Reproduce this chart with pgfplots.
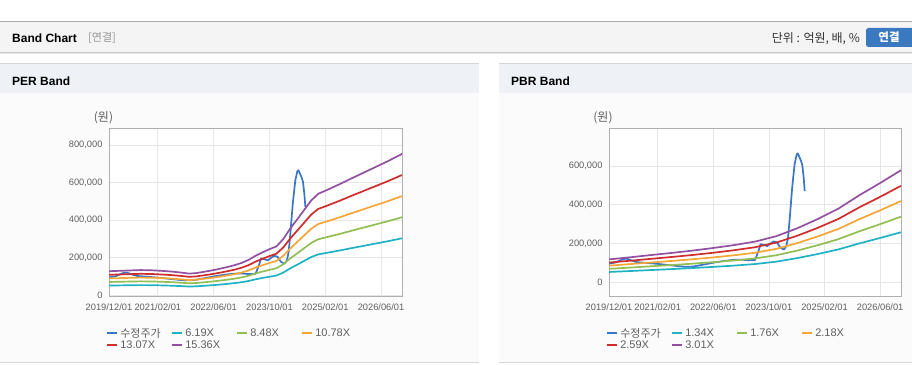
\documentclass[border=0pt]{standalone}
\usepackage{fontspec}
\setmainfont{Liberation Sans}
\newfontfamily\kr{Noto Sans CJK KR}
\usepackage{pgfplots}
\usepackage{pgfplotstable}
\pgfplotsset{compat=1.18}
\definecolor{blueline}{RGB}{58,118,200}
\definecolor{cyanl}{RGB}{30,178,196}
\definecolor{greenl}{RGB}{146,190,82}
\definecolor{orangel}{RGB}{245,166,52}
\definecolor{redl}{RGB}{208,44,44}
\definecolor{purplel}{RGB}{145,80,160}
\definecolor{gridc}{RGB}{230,230,230}
\definecolor{framec}{RGB}{175,175,175}
\definecolor{labc}{RGB}{95,95,95}
\definecolor{hdrbg}{RGB}{244,244,244}
\definecolor{titbg}{RGB}{238,242,246}
\definecolor{bodybg}{RGB}{251,251,251}
\definecolor{btn}{RGB}{58,120,192}
\definecolor{ln1}{RGB}{170,170,170}
\definecolor{ln2}{RGB}{200,200,200}
\definecolor{ln3}{RGB}{232,232,232}
\definecolor{ln4}{RGB}{214,214,214}
\definecolor{grey150}{RGB}{150,150,150}
\definecolor{grey60}{RGB}{50,50,50}

% price (thousand won), month index from 2019/12
\pgfplotstableread{
m v
0 95
1 98
2 102
3 110
4 118
5 121
6 115
7 108
8 103
10 100
12 97
14 94
16 90
18 86
20 82
22 79
24 80
26 86
28 93
30 100
32 106
34 111
36 115
38 116
40 113
42 114
43 160
43.6 196
44.5 192
45.5 186
46.5 200
47.4 210
48.3 205
49.3 178
50.3 168
51.0 185
51.5 230
52.0 330
52.7 490
53.4 610
54.0 660
54.3 665
54.8 645
55.2 628
55.6 605
56.0 540
56.3 470
}\price

\pgfplotstableread{
m c g o r p
0 51.6 70.7 89.8 108.9 128
3 52.4 71.8 91.2 110.6 130
6 53.2 72.9 92.6 112.3 132
9 54.0 74.0 94.0 114.0 134
12 53.6 73.4 93.3 113.2 133
15 52.4 71.8 91.2 110.6 130
18 50.8 69.6 88.4 107.2 126
21 48.4 66.2 84.2 102.1 120
23 46.3 63.5 80.7 97.9 115
25 47.6 65.1 82.8 100.4 118
27 50.0 68.5 87.0 105.5 124
30 54.0 74.0 94.0 114.0 134
33 58.8 80.6 102.5 124.2 146
36 64.5 88.3 112.3 136.1 160
38 69.3 95.0 120.7 146.4 172
40 75.8 103.8 131.9 160.0 188
42 84.6 115.9 147.4 178.7 210
44 91.9 125.9 160.0 194.0 228
46 98.7 135.3 171.9 208.5 245
48 104.8 143.5 182.5 221.2 260
50 120.9 165.6 210.5 255.3 300
52 143.5 196.5 249.8 302.9 356
54 163.2 223.6 284.2 344.6 405
56 183.4 251.2 319.3 387.2 455
58 203.5 278.8 354.4 429.7 505
60 217.6 298.1 379.0 459.5 540
62 224.1 307.0 390.2 473.1 556
66 237.8 325.7 414.1 502.0 590
70 252.3 345.6 439.3 532.7 626
75 270.0 369.9 470.2 570.1 670
80 287.7 394.2 501.1 607.5 714
84 303.0 415.2 527.8 639.9 752
}\per

\pgfplotstableread{
m c g o r p
0 52.1 68.5 84.8 100.8 117.1
6 57.0 74.8 92.7 110.1 127.9
12 62.0 81.5 100.9 119.9 139.4
18 67.0 88.0 109.0 129.5 150.5
24 72.4 95.0 117.7 139.9 162.5
30 78.4 103.0 127.5 151.5 176.1
36 85.1 111.8 138.4 164.5 191.1
42 93.1 122.3 151.5 180.0 209.2
48 105.2 138.2 171.1 203.3 236.3
54 123.3 161.9 200.6 238.3 276.9
60 144.7 190.1 235.4 279.7 325.1
66 168.8 221.8 274.7 326.3 379.3
72 199.7 262.2 324.8 385.9 448.5
78 227.8 299.2 370.6 440.3 511.7
84 257.3 337.9 418.6 497.3 577.9
}\pbr

\pgfplotsset{
  bandax/.style={
    anchor=south west, scale only axis, height=168pt,
    xmin=0, xmax=84,
    xtick={0,14,30,46,62,78},
    xticklabels={2019/12/01,2021/02/01,2022/06/01,2023/10/01,2025/02/01,2026/06/01},
    grid=major, major grid style={draw=gridc, line width=0.8pt},
    axis line style={draw=framec, line width=0.8pt},
    major tick length=0pt,
    tick label style={font=\fontsize{9.3}{10}\selectfont, text=labc},
    xticklabel style={yshift=-4pt},
    yticklabel style={xshift=-3pt},
    axis background/.style={fill=white},
    legend image code/.code={\draw[##1, line width=2pt] (0pt,0pt) -- (10pt,0pt);},
    legend cell align=left,
    legend columns=4,
    legend style={draw=none, fill=none, anchor=north west, inner sep=0pt,
      font=\fontsize{11}{12}\selectfont, text=labc, row sep=0pt,
      nodes={inner xsep=2pt, inner ysep=1pt}},
    every axis plot/.append style={line width=1.7pt, line join=round},
  }
}

\begin{document}
\begin{tikzpicture}[x=1pt,y=1pt]
\useasboundingbox (0,0) rectangle (912,364);
\fill[white] (0,0) rectangle (912,364);
% header
\fill[hdrbg] (0,311) rectangle (912,342);
\draw[ln1, line width=1pt] (0,342) -- (912,342);
\draw[ln2, line width=1pt] (0,311.5) -- (912,311.5);
\draw[ln3, line width=1pt] (0,310.5) -- (912,310.5);
\node[anchor=west, inner sep=0pt, font=\bfseries\fontsize{12}{14}\selectfont] at (12,326) {Band Chart};
\node[anchor=west, inner sep=0pt, text=grey150] at (88,326) {\kr\fontsize{11}{13}\selectfont [연결]};
\node[anchor=east, inner sep=0pt, text=grey60] at (860,325.5) {\kr\fontsize{12}{14}\selectfont 단위 : 억원, 배, \%};
\begin{scope}
\clip (0,0) rectangle (912,364);
\fill[btn, rounded corners=2.5pt] (866,317) rectangle (918,336);
\end{scope}
\node[inner sep=0pt, text=white] at (889,326.5) {\kr\bfseries\fontsize{11.5}{13}\selectfont 연결};
% panels
\foreach \xa/\xb in {0/479, 499/912}{
  \fill[bodybg] (\xa,1.5) rectangle (\xb,271);
  \fill[titbg] (\xa,271) rectangle (\xb,300);
  \draw[ln4, line width=1pt] (\xa,300) -- (\xb,300);
  \draw[ln4, line width=1pt] (\xa,1.5) -- (\xb,1.5);
}
\node[anchor=west, inner sep=0pt, font=\bfseries\fontsize{12}{14}\selectfont] at (12,283) {PER Band};
\node[anchor=west, inner sep=0pt, font=\bfseries\fontsize{12}{14}\selectfont] at (511,283) {PBR Band};
\node[inner sep=0pt, text=labc] at (103.5,246) {\kr\fontsize{12}{14}\selectfont (원)};
\node[inner sep=0pt, text=labc] at (603,246) {\kr\fontsize{12}{14}\selectfont (원)};

\begin{axis}[bandax, at={(109pt,68pt)}, width=293pt,
  ymin=-4, ymax=890,
  ytick={0,200,400,600,800},
  yticklabels={0,{200,000},{400,000},{600,000},{800,000}},
  legend style={at={(axis description cs:-0.01,-0.183)}},
]
\addplot[blueline] table[x=m,y=v] {\price};
\addlegendentry{\makebox[49pt][l]{\kr 수정주가}}
\addplot[cyanl] table[x=m,y=c] {\per};
\addlegendentry{\makebox[49pt][l]{6.19X}}
\addplot[greenl] table[x=m,y=g] {\per};
\addlegendentry{\makebox[49pt][l]{8.48X}}
\addplot[orangel] table[x=m,y=o] {\per};
\addlegendentry{\makebox[49pt][l]{10.78X}}
\addplot[redl] table[x=m,y=r] {\per};
\addlegendentry{\makebox[49pt][l]{13.07X}}
\addplot[purplel] table[x=m,y=p] {\per};
\addlegendentry{\makebox[49pt][l]{15.36X}}
\end{axis}

\begin{axis}[bandax, at={(609pt,68pt)}, width=292pt,
  ymin=-72, ymax=796,
  ytick={0,200,400,600},
  yticklabels={0,{200,000},{400,000},{600,000}},
  legend style={at={(axis description cs:-0.01,-0.183)}},
]
\addplot[blueline] table[x=m,y=v] {\price};
\addlegendentry{\makebox[49pt][l]{\kr 수정주가}}
\addplot[cyanl] table[x=m,y=c] {\pbr};
\addlegendentry{\makebox[49pt][l]{1.34X}}
\addplot[greenl] table[x=m,y=g] {\pbr};
\addlegendentry{\makebox[49pt][l]{1.76X}}
\addplot[orangel] table[x=m,y=o] {\pbr};
\addlegendentry{\makebox[49pt][l]{2.18X}}
\addplot[redl] table[x=m,y=r] {\pbr};
\addlegendentry{\makebox[49pt][l]{2.59X}}
\addplot[purplel] table[x=m,y=p] {\pbr};
\addlegendentry{\makebox[49pt][l]{3.01X}}
\end{axis}
\end{tikzpicture}
\end{document}
